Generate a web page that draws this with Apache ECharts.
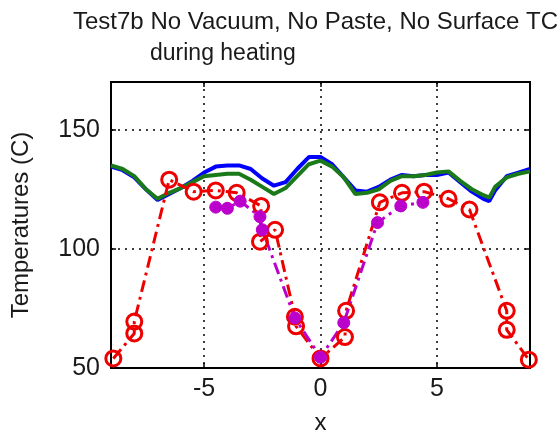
<!DOCTYPE html>
<html>
<head>
<meta charset="utf-8">
<script src="https://cdn.jsdelivr.net/npm/echarts@6/dist/echarts.min.js"></script>
<style>
  html, body { margin: 0; padding: 0; background: #fff; }
  #chart { width: 558px; height: 440px; }
</style>
</head>
<body>
<div id="chart"></div>
<script>
// Thermocouple traces along x
const titleLines = ['Test7b No Vacuum, No Paste, No Surface TC', 'during heating'];
const xLabel = 'x';
const yLabel = 'Temperatures (C)';
const xTicks = [-5, 0, 5];
const yTicks = [50, 100, 150];

// Continuous traces (blue and green)
const traceX = [-9, -8.5, -8, -7.5, -7, -6.5, -6, -5.5, -5, -4.5, -4, -3.5, -3, -2.5, -2, -1.5, -1, -0.5,
                0, 0.5, 1, 1.5, 2, 2.5, 3, 3.5, 4, 4.5, 5, 5.5, 6, 6.5, 7, 7.25, 7.5, 8, 8.5, 9];
const blueTemps = [134.5, 133, 130, 125, 120.5, 123, 125.5, 128.5, 132, 134.5, 135, 135, 133.5, 129.5, 126.5, 128, 133.5, 138.5,
                   138.5, 135.5, 130, 124.5, 124, 126, 129, 131, 130.5, 131, 131, 132, 128, 124, 121, 120, 124.5, 130.5, 132, 133.5];
const greenTemps = [135, 133.5, 130.5, 125, 121, 123.5, 125.5, 128, 130.5, 131, 131.5, 131.5, 129, 126, 123, 125.5, 130.5, 135.5,
                    137, 134.5, 130, 123, 123.5, 125, 128.5, 130.5, 130.5, 131, 132, 132.5, 128.5, 125, 122.5, 121.5, 126, 130, 131.5, 132.5];

// Sampled points (red circles)
const redX = [-8.9, -8.0, -8.0, -6.5, -5.45, -4.5, -3.6, -2.55, -2.6, -1.95, -1.1, -1.05, 0, 1.05, 1.1, 2.55, 3.5, 4.45, 5.5, 6.4, 8.0, 8.0, 8.95];
const redTemps = [54, 64.5, 69.5, 129, 124, 124.5, 123.5, 118, 103, 108, 71.5, 67.5, 54, 63, 74, 119.5, 123.5, 124, 121, 116.5, 74, 66, 53.5];

// Sampled points (magenta)
const magentaX = [-4.5, -4.0, -3.45, -2.6, -2.5, -1.1, 0, 1.0, 2.45, 3.45, 4.4];
const magentaTemps = [117.5, 117, 120, 113.5, 108, 71, 54.5, 69, 111, 118, 119.5];

const pairs = (xs, ys) => xs.map((x, i) => [x, ys[i]]);

const FONT = 'Liberation Sans, Arial, sans-serif';
const TEXT = '#1a1a1a';

const chart = echarts.init(document.getElementById('chart'), null, { renderer: 'canvas' });

const baseX = {
  type: 'value', min: -9, max: 9, splitNumber: 4,
  axisLine: { show: true, onZero: false, lineStyle: { color: '#000', width: 2 } },
  axisTick: { show: true, inside: true, length: 5, lineStyle: { color: '#000', width: 1.5 } }
};
const baseY = {
  type: 'value', min: 50, max: 170, interval: 50,
  axisLine: { show: true, onZero: false, lineStyle: { color: '#000', width: 2 } },
  axisTick: { show: true, inside: true, length: 5, lineStyle: { color: '#000', width: 1.5 } }
};

chart.setOption({
  animation: false,
  backgroundColor: '#fff',
  title: [
    { text: titleLines[0], left: 68, top: 5,
      textStyle: { fontFamily: FONT, fontSize: 24, fontWeight: 'normal', color: TEXT } },
    { text: titleLines[1], left: 145, top: 37,
      textStyle: { fontFamily: FONT, fontSize: 23, fontWeight: 'normal', color: TEXT } }
  ],
  grid: { left: 111, top: 82, right: 28, bottom: 72, show: true, borderColor: '#000', borderWidth: 2, backgroundColor: '#fff' },
  xAxis: [
    Object.assign({}, baseX, {
      position: 'bottom',
      name: xLabel, nameLocation: 'middle', nameGap: 43,
      nameTextStyle: { fontFamily: FONT, fontSize: 24, color: TEXT },
      axisLabel: { show: true, margin: 9, showMinLabel: false, showMaxLabel: false,
        fontFamily: FONT, fontSize: 25, color: TEXT,
        formatter: v => xTicks.includes(v) ? String(v) : '' },
      splitLine: { show: true, lineStyle: { color: '#000', width: 1.5, type: [2, 5] } }
    }),
    Object.assign({}, baseX, {
      position: 'top',
      axisLabel: { show: false },
      splitLine: { show: false }
    })
  ],
  yAxis: [
    Object.assign({}, baseY, {
      position: 'left',
      name: yLabel, nameLocation: 'middle', nameGap: 78, nameRotate: 90,
      nameTextStyle: { fontFamily: FONT, fontSize: 24, color: TEXT },
      axisLabel: { show: true, margin: 11, showMaxLabel: false,
        fontFamily: FONT, fontSize: 25, color: TEXT,
        formatter: v => yTicks.includes(v) ? String(v) : '' },
      splitLine: { show: true, lineStyle: { color: '#000', width: 1.5, type: [2, 5] } }
    }),
    Object.assign({}, baseY, {
      position: 'right',
      axisLabel: { show: false },
      splitLine: { show: false }
    })
  ],
  series: [
    {
      name: 'blue', type: 'line', data: pairs(traceX, blueTemps),
      showSymbol: false, symbol: 'none',
      lineStyle: { color: '#0000ff', width: 4 }
    },
    {
      name: 'green', type: 'line', data: pairs(traceX, greenTemps),
      showSymbol: false, symbol: 'none',
      lineStyle: { color: '#1a7a1a', width: 4 }
    },
    {
      name: 'red', type: 'line', data: pairs(redX, redTemps),
      symbol: 'circle', symbolSize: 15,
      itemStyle: { color: 'rgba(0,0,0,0)', borderColor: '#ee0000', borderWidth: 3 },
      lineStyle: { color: '#ee0000', width: 3, type: [12, 5, 3, 5] }
    },
    {
      name: 'magenta', type: 'line', data: pairs(magentaX, magentaTemps),
      symbol: 'circle', symbolSize: 12,
      itemStyle: { color: '#bb00cc', borderColor: '#bb00cc', borderWidth: 1 },
      lineStyle: { color: '#bb00cc', width: 3, type: [12, 5, 3, 5] }
    }
  ]
});
</script>
</body>
</html>
